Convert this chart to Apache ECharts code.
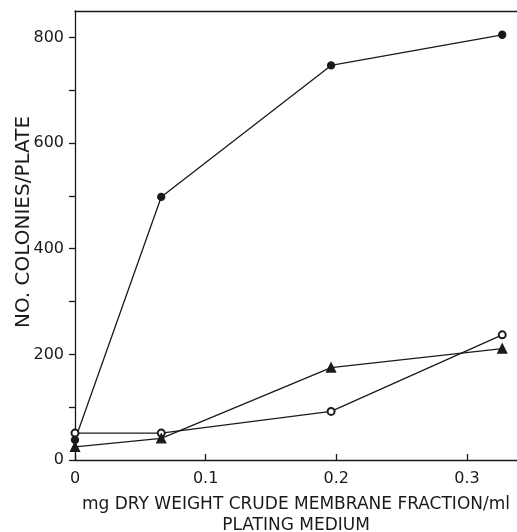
<!DOCTYPE html>
<html>
<head>
<meta charset="utf-8">
<script src="https://cdn.jsdelivr.net/npm/echarts@6/dist/echarts.min.js"></script>
<style>
html,body{margin:0;padding:0;background:#fff;}
#chart{width:517px;height:532px;}
</style>
</head>
<body>
<div id="chart"></div>
<script>
// Data
var doses = [0, 0.066, 0.196, 0.327];
var filledCircles = [38, 498, 747, 805];
var openCircles = [51, 51, 92, 237];
var triangles = [25, 41, 175, 211];
var yTickValues = [0, 100, 200, 300, 400, 500, 600, 700, 800];
var yLabelValues = [0, 200, 400, 600, 800];
var xTickValues = [0, 0.1, 0.2, 0.3];
var xTitle = 'mg DRY WEIGHT CRUDE MEMBRANE FRACTION/ml\nPLATING MEDIUM';
var yTitle = 'NO. COLONIES/PLATE';

function pairs(xs, ys) { return xs.map(function (x, i) { return [x, ys[i]]; }); }

var FONT = 'DejaVu Sans';
var INK = '#1a1a1a';
var chart = echarts.init(document.getElementById('chart'), null, {renderer: 'canvas'});

function lineSeries(name, data, symbol, size) {
  return {
    name: name,
    type: 'line',
    data: data,
    symbol: symbol,
    symbolSize: size,
    showSymbol: true,
    animation: false,
    lineStyle: {color: INK, width: 1.3},
    itemStyle: {color: INK, borderColor: INK, borderWidth: 1.3},
    emphasis: {disabled: true},
    z: 3
  };
}

chart.setOption({
  backgroundColor: '#fff',
  animation: false,
  grid: {left: 75, right: 0, top: 11, bottom: 72, containLabel: false, outerBoundsMode: 'none'},
  xAxis: [{
    type: 'value',
    min: 0, max: 0.3383,
    position: 'bottom',
    axisLine: {show: true, lineStyle: {color: INK, width: 1.3}},
    axisTick: {show: true, inside: true, length: 6, customValues: xTickValues, lineStyle: {color: INK, width: 1.3}},
    axisLabel: {show: true, customValues: xTickValues, margin: 11, fontFamily: FONT, fontSize: 16, color: INK,
      formatter: function (v) { return v === 0 ? '0' : String(v); }},
    splitLine: {show: false},
    name: xTitle,
    nameLocation: 'middle',
    nameGap: 34,
    nameTextStyle: {fontFamily: FONT, fontSize: 17, color: INK, lineHeight: 21, align: 'center'}
  }, {
    type: 'value',
    min: 0, max: 0.3383,
    position: 'top',
    axisLine: {show: true, lineStyle: {color: INK, width: 1.3}},
    axisTick: {show: false},
    axisLabel: {show: false},
    splitLine: {show: false}
  }],
  yAxis: {
    type: 'value',
    min: 0, max: 850,
    axisLine: {show: true, lineStyle: {color: INK, width: 1.3}},
    axisTick: {show: true, inside: false, length: 6, customValues: yTickValues, lineStyle: {color: INK, width: 1.3}},
    axisLabel: {show: true, customValues: yLabelValues, margin: 11, fontFamily: FONT, fontSize: 16, color: INK,
      verticalAlign: 'middle', verticalAlignMinLabel: 'middle', verticalAlignMaxLabel: 'middle'},
    splitLine: {show: false}
  },
  graphic: [{
    type: 'text',
    x: 24, y: 222,
    rotation: Math.PI / 2,
    style: {text: yTitle, fontFamily: FONT, fontSize: 20, fill: INK, align: 'center', verticalAlign: 'middle'}
  }],
  series: [
    lineSeries('filled', pairs(doses, filledCircles), 'circle', 7),
    lineSeries('open', pairs(doses, openCircles), 'emptyCircle', 7),
    lineSeries('triangle', pairs(doses, triangles), 'triangle', 9)
  ]
});
</script>
</body>
</html>
